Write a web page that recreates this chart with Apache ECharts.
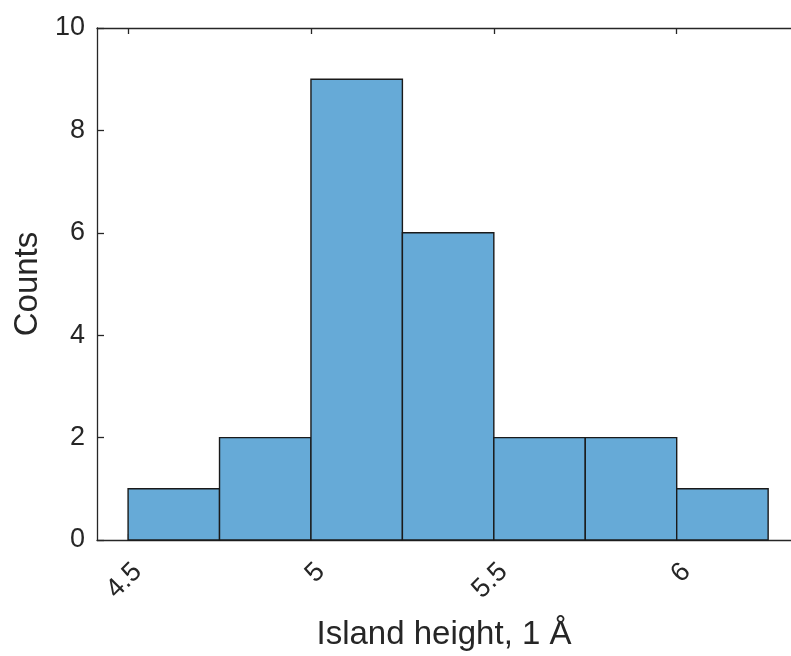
<!DOCTYPE html>
<html>
<head>
<meta charset="utf-8">
<script src="https://cdn.jsdelivr.net/npm/echarts@6/dist/echarts.min.js"></script>
<style>
html,body{margin:0;padding:0;background:#fff;}
#chart{width:791px;height:656px;}
</style>
</head>
<body>
<div id="chart"></div>
<script>
// Histogram data
const binStarts = [4.5, 4.75, 5.0, 5.25, 5.5, 5.75, 6.0];
const binEnds   = [4.75, 5.0, 5.25, 5.5, 5.75, 6.0, 6.25];
const counts    = [1, 2, 9, 6, 2, 2, 1];
const xTickValues = [4.5, 5, 5.5, 6];
const yTicks = [0, 2, 4, 6, 8, 10];
const xName = 'Island height, 1 Å';
const yName = 'Counts';

const data = binStarts.map((s, i) => [s, binEnds[i], counts[i]]);
const axisColor = '#262626';
const font = "'Liberation Sans', Arial, Helvetica, sans-serif";

const chart = echarts.init(document.getElementById('chart'));
chart.setOption({
  animation: false,
  backgroundColor: '#ffffff',
  grid: { left: 97, top: 28, bottom: 111, right: 0, containLabel: false },
  xAxis: [{
    type: 'value', min: 4.415, max: 6.3125, position: 'bottom',
    splitLine: { show: false },
    axisLine: { show: true, onZero: false, lineStyle: { color: axisColor, width: 1.3 } },
    axisTick: { show: true, inside: true, length: 6, customValues: xTickValues, lineStyle: { color: axisColor, width: 1.3 } },
    axisLabel: { show: true, customValues: xTickValues, rotate: 45, margin: 18, verticalAlign: 'top',
      color: axisColor, fontSize: 27, fontFamily: font },
    name: xName, nameLocation: 'middle', nameGap: 78,
    nameTextStyle: { color: axisColor, fontSize: 33, fontFamily: font }
  }, {
    type: 'value', min: 4.415, max: 6.3125, position: 'top',
    splitLine: { show: false },
    axisLine: { show: true, onZero: false, lineStyle: { color: axisColor, width: 1.3 } },
    axisTick: { show: true, inside: true, length: 6, customValues: xTickValues, lineStyle: { color: axisColor, width: 1.3 } },
    axisLabel: { show: false }
  }],
  yAxis: [{
    type: 'value', min: 0, max: 10, interval: 2, position: 'left',
    splitLine: { show: false },
    axisLine: { show: true, onZero: false, lineStyle: { color: axisColor, width: 1.3 } },
    axisTick: { show: true, inside: true, length: 7, lineStyle: { color: axisColor, width: 1.3 } },
    axisLabel: { show: true, margin: 12, color: axisColor, fontSize: 27, fontFamily: font },
    name: yName, nameLocation: 'middle', nameGap: 53, nameRotate: 90,
    nameTextStyle: { color: axisColor, fontSize: 33, fontFamily: font }
  }],
  series: [{
    type: 'custom',
    xAxisIndex: 0, yAxisIndex: 0,
    data: data,
    encode: { x: [0, 1], y: 2 },
    renderItem: function (params, api) {
      const p0 = api.coord([api.value(0), api.value(2)]);
      const p1 = api.coord([api.value(1), 0]);
      return {
        type: 'rect',
        shape: { x: p0[0], y: p0[1], width: p1[0] - p0[0], height: p1[1] - p0[1] },
        style: { fill: '#66aad7', stroke: '#1a1a1a', lineWidth: 1.4 }
      };
    }
  }]
});
</script>
</body>
</html>
